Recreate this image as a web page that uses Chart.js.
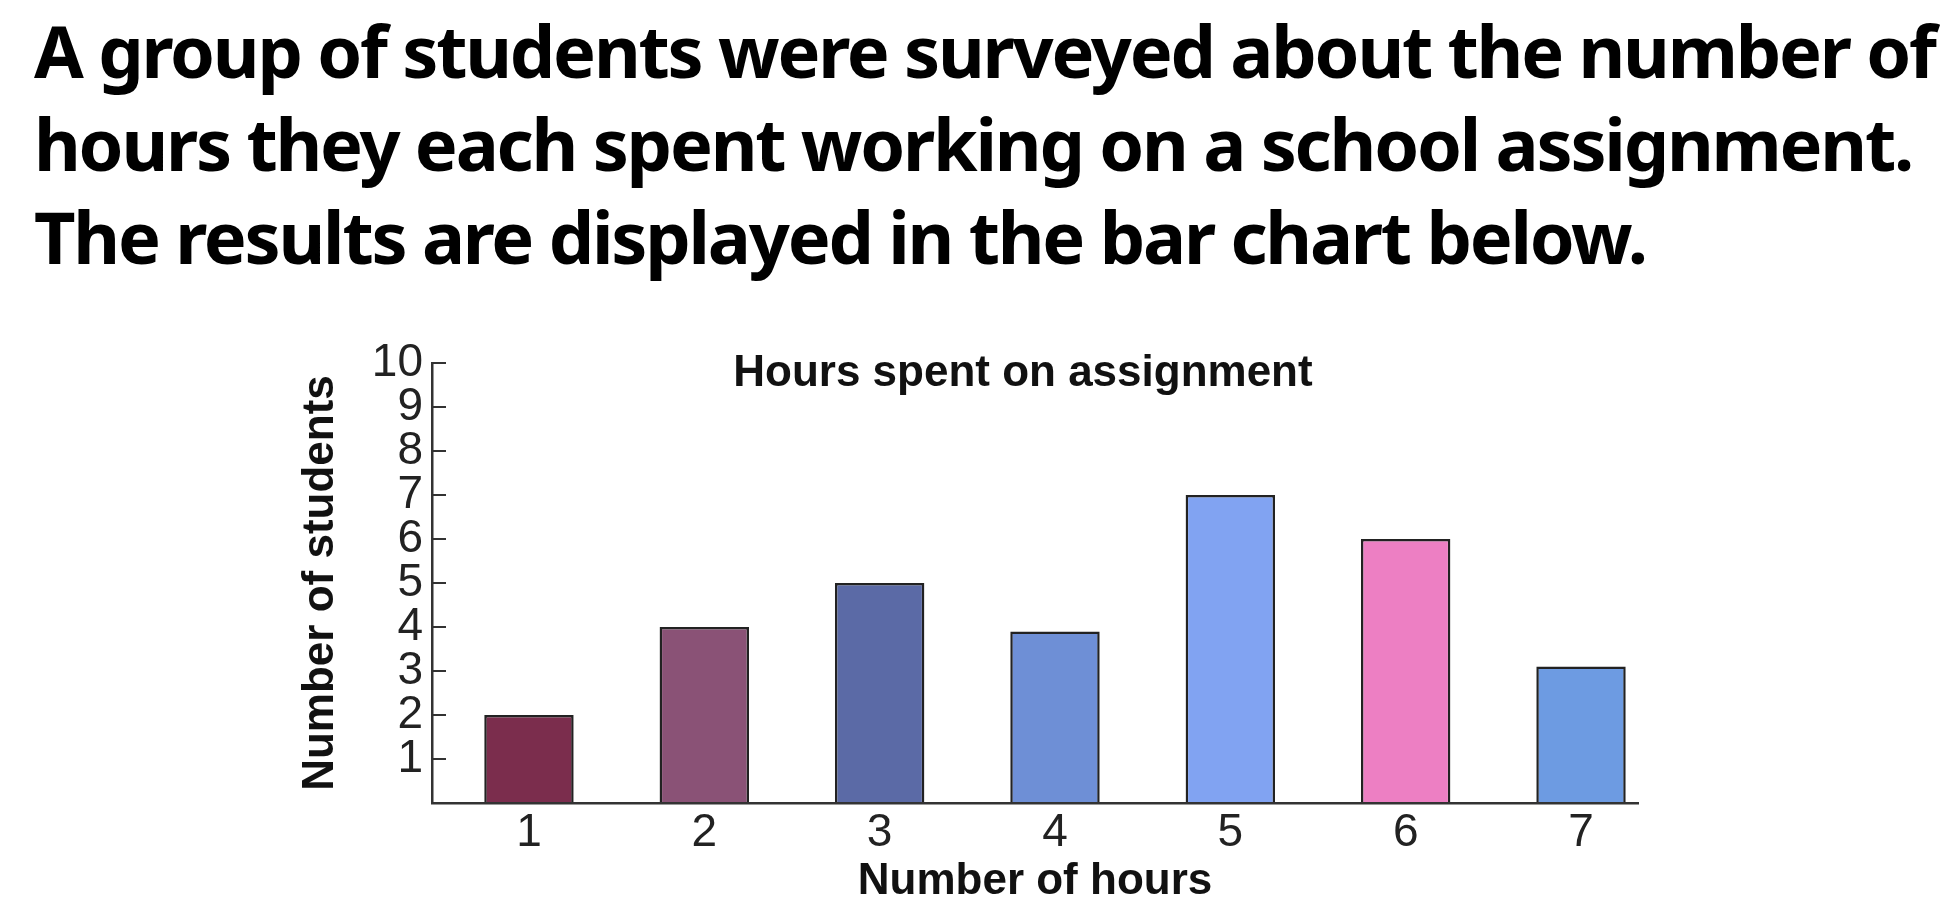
<!DOCTYPE html>
<html>
<head>
<meta charset="utf-8">
<script src="https://cdn.jsdelivr.net/npm/chart.js@4"></script>
<style>
    html, body { margin: 0; padding: 0; background: #fff; }
    body { width: 1952px; height: 920px; position: relative; overflow: hidden; }
    #question {
        position: absolute; left: 34px; top: 4px;
        font-family: "Noto Sans", "Open Sans", sans-serif; font-weight: 700;
        font-size: 72px; line-height: 93px; letter-spacing: -2.2px; color: #000; white-space: nowrap;
    }
    #wrap { position: absolute; left: 230px; top: 320px; width: 1480px; height: 600px; }
</style>
</head>
<body>
<div id="question">A group of students were surveyed about the number of<br>hours they each spent working on a school assignment.<br>The results are displayed in the bar chart below.</div>
<div id="wrap"><canvas id="hoursChart" width="1480" height="600"></canvas></div>
<script>
// Values
const hours = [1, 2, 3, 4, 5, 6, 7];
const students = [2, 4, 5, 3.9, 7, 6, 3.1];
const yTickValues = [0, 1, 2, 3, 4, 5, 6, 7, 8, 9, 10];
const barColors = ['#7b2d4d', '#8a5276', '#5b6aa6', '#6e8fd6', '#81a3f2', '#ed7fc3', '#6d9be2'];

const chartTitle = 'Hours spent on assignment';
const xTitle = 'Number of hours';
const yTitle = 'Number of students';

// Title sits inside the plot area, so draw it after the chart
const innerTitle = {
    id: 'innerTitle',
    afterDraw(chart) {
        const { ctx, chartArea } = chart;
        ctx.save();
        ctx.font = 'bold 44px "Liberation Sans", Arial, sans-serif';
        ctx.fillStyle = '#111';
        ctx.textAlign = 'center';
        ctx.textBaseline = 'middle';
        ctx.fillText(chartTitle, chartArea.left + (chartArea.right - chartArea.left) * 0.49, chartArea.top + 11);
        ctx.restore();
    }
};

function renderChart() {
    const ctx = document.getElementById('hoursChart').getContext('2d');
    new Chart(ctx, {
        type: 'bar',
        data: {
            datasets: [{
                data: hours.map((h, i) => ({ x: h, y: students[i] })),
                backgroundColor: barColors,
                borderColor: '#222',
                borderWidth: 2.5,
                categoryPercentage: 1,
                barPercentage: 0.51,
            }],
        },
        options: {
            responsive: false,
            animation: false,
            devicePixelRatio: 1,
            layout: { padding: { left: 0, top: 43, right: 72, bottom: 0 } },
            plugins: {
                legend: { display: false },
                tooltip: { enabled: false },
            },
            scales: {
                x: {
                    type: 'linear',
                    offset: false,
                    min: 0.447,
                    max: 7.325,
                    afterBuildTicks: (scale) => { scale.ticks = hours.map(v => ({ value: v })); },
                    afterFit: (scale) => { scale.height = 117; },
                    grid: { offset: false, drawOnChartArea: false, drawTicks: false },
                    border: { display: true, color: '#333', width: 2.5 },
                    ticks: {
                        padding: 3,
                        autoSkip: false,
                        maxRotation: 0,
                        color: '#222',
                        font: { family: '"Liberation Sans", Arial, sans-serif', size: 46 },
                    },
                    title: {
                        display: true,
                        text: xTitle,
                        color: '#111',
                        padding: { top: 0, bottom: 12 },
                        font: { family: '"Liberation Sans", Arial, sans-serif', size: 44, weight: 'bold' },
                    },
                },
                y: {
                    min: 0,
                    max: 10,
                    afterBuildTicks: (scale) => { scale.ticks = yTickValues.map(v => ({ value: v })); },
                    afterFit: (scale) => {
                        scale.width = 202;
                        scale.paddingTop = 0;
                        scale.paddingBottom = 0;
                    },
                    grid: { drawOnChartArea: false, drawTicks: true, tickLength: -14, color: '#333', lineWidth: 2 },
                    border: { display: true, color: '#333', width: 2.5 },
                    ticks: {
                        padding: 23,
                        autoSkip: false,
                        color: '#222',
                        font: { family: '"Liberation Sans", Arial, sans-serif', size: 46 },
                        callback: (v) => (v === 0 ? '' : v),
                    },
                    title: {
                        display: true,
                        text: yTitle,
                        color: '#111',
                        padding: { top: 64, bottom: 0 },
                        font: { family: '"Liberation Sans", Arial, sans-serif', size: 44, weight: 'bold' },
                    },
                },
            },
        },
        plugins: [innerTitle],
    });
}

renderChart();
</script>
</body>
</html>
